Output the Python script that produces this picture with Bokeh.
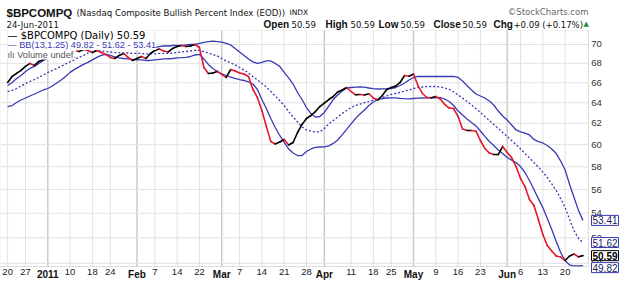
from bokeh.plotting import figure
from bokeh.models import Range1d, FixedTicker, PrintfTickFormatter, Label, LinearAxis, BoxAnnotation
from bokeh.embed import file_html
from bokeh.resources import INLINE

# trading-day index: 0 = 27-Dec-2010 (holidays skipped)
day_index = list(range(-4, 126))

price = [66.03, 66.64, 66.95, 67.26, 67.68, 67.99, 67.78, 68.20, 68.41, 68.72,
         68.94, 68.83, 69.15, 69.25, 69.04, 69.36, 69.25, 69.46, 69.36, 69.15,
         69.36, 69.15, 68.94, 68.62, 68.51, 68.83, 69.04, 68.62, 68.30, 68.51,
         68.72, 68.51, 69.04, 69.36, 69.52, 69.31, 69.20, 69.57, 69.78, 69.89,
         69.78, 69.84, 70.00, 69.68, 67.57, 66.95, 67.00, 67.16, 66.85, 66.54,
         67.36, 67.21, 67.00, 66.90, 66.64, 65.32, 64.52, 63.24, 61.71, 60.30,
         60.07, 60.25, 60.49, 59.98, 60.21, 61.14, 61.90, 62.47, 62.76, 63.14,
         63.63, 63.97, 64.32, 64.62, 65.07, 65.27, 65.52, 65.12, 64.79, 64.82,
         64.77, 64.89, 64.47, 64.27, 64.72, 65.32, 65.52, 65.67, 66.03, 66.74,
         66.67, 66.90, 65.72, 64.92, 64.52, 64.49, 64.62, 64.37, 63.83, 63.48,
         63.43, 62.66, 61.47, 61.33, 61.33, 61.26, 60.39, 59.65, 59.24, 59.10,
         59.10, 59.84, 59.28, 58.83, 58.02, 56.96, 56.26, 55.15, 54.64, 53.48,
         52.26, 51.38, 50.95, 50.56, 50.48, 50.21, 50.56, 50.72, 50.50, 50.59]

bb_upper = [65.72, 66.03, 66.44, 66.74, 67.16, 67.47, 67.68, 67.99, 68.30, 68.51,
            68.72, 68.94, 69.15, 69.36, 69.46, 69.57, 69.68, 69.73, 69.78, 69.78,
            69.78, 69.78, 69.73, 69.68, 69.68, 69.62, 69.57, 69.57, 69.52, 69.52,
            69.57, 69.57, 69.62, 69.68, 69.78, 69.84, 69.84, 69.89, 69.89, 69.89,
            69.95, 70.00, 70.00, 70.11, 70.22, 70.32, 70.36, 70.32, 70.25, 70.11,
            69.95, 69.57, 69.20, 68.83, 68.46, 68.15, 67.99, 68.10, 68.25, 68.25,
            67.99, 67.68, 67.06, 66.49, 65.87, 65.02, 64.32, 63.53, 62.95, 62.61,
            62.66, 63.05, 63.68, 64.32, 64.77, 65.17, 65.47, 65.52, 65.55, 65.57,
            65.55, 65.47, 65.40, 65.37, 65.39, 65.39, 65.42, 65.52, 65.72, 65.98,
            66.28, 66.54, 66.64, 66.64, 66.64, 66.64, 66.64, 66.64, 66.64, 66.64,
            66.64, 66.54, 66.18, 65.72, 65.27, 64.87, 64.67, 64.47, 64.17, 63.78,
            63.19, 62.71, 62.33, 61.85, 61.38, 61.19, 61.08, 60.91, 60.49, 60.28,
            60.16, 59.93, 59.61, 59.19, 58.51, 57.71, 56.44, 55.32, 54.22, 53.41]

bb_mid = [65.12, 65.22, 65.42, 65.67, 65.92, 66.13, 66.33, 66.54, 66.79, 67.06,
          67.26, 67.47, 67.68, 67.94, 68.15, 68.41, 68.62, 68.83, 69.09, 69.25,
          69.31, 69.31, 69.25, 69.20, 69.14, 69.14, 69.09, 69.09, 69.04, 69.04,
          69.04, 68.99, 68.99, 68.99, 69.04, 69.04, 69.04, 69.09, 69.14, 69.20,
          69.25, 69.31, 69.36, 69.36, 69.25, 69.09, 68.94, 68.78, 68.51, 68.25,
          68.05, 67.84, 67.57, 67.31, 67.00, 66.64, 66.28, 65.92, 65.57, 65.12,
          64.67, 64.22, 63.73, 63.14, 62.61, 62.14, 61.66, 61.38, 61.26, 61.19,
          61.19, 61.52, 61.95, 62.28, 62.61, 62.95, 63.24, 63.53, 63.73, 63.87,
          64.02, 64.12, 64.27, 64.42, 64.52, 64.67, 64.82, 64.92, 65.02, 65.17,
          65.27, 65.42, 65.52, 65.57, 65.62, 65.62, 65.62, 65.57, 65.47, 65.32,
          65.07, 64.77, 64.47, 64.12, 63.78, 63.43, 63.05, 62.66, 62.28, 61.90,
          61.52, 61.14, 60.77, 60.39, 60.02, 59.61, 59.19, 58.79, 58.38, 57.98,
          57.53, 57.05, 56.49, 55.92, 55.23, 54.47, 53.48, 52.58, 51.94, 51.62]

bb_lower = [63.63, 63.73, 64.02, 64.27, 64.47, 64.67, 64.87, 65.07, 65.27, 65.42,
            65.67, 65.98, 66.28, 66.64, 67.06, 67.37, 67.63, 67.89, 68.10, 68.36,
            68.62, 68.83, 68.94, 68.83, 68.67, 68.57, 68.51, 68.46, 68.41, 68.36,
            68.36, 68.30, 68.30, 68.36, 68.41, 68.46, 68.48, 68.51, 68.57, 68.59,
            68.62, 68.72, 68.88, 68.94, 68.46, 67.89, 67.47, 67.16, 66.90, 66.74,
            66.57, 66.44, 66.33, 66.23, 66.08, 65.87, 65.32, 64.32, 63.43, 62.47,
            61.61, 60.86, 60.21, 59.61, 59.24, 59.01, 59.01, 59.38, 59.61, 59.75,
            59.79, 59.81, 59.89, 60.12, 60.44, 60.91, 61.43, 61.95, 62.47, 62.90,
            63.29, 63.73, 64.07, 64.32, 64.42, 64.47, 64.49, 64.49, 64.44, 64.40,
            64.39, 64.42, 64.45, 64.47, 64.49, 64.49, 64.49, 64.52, 64.37, 64.12,
            63.73, 63.19, 62.81, 62.43, 62.09, 61.76, 61.28, 60.77, 60.30, 59.93,
            59.51, 59.19, 58.83, 58.60, 58.38, 58.02, 57.49, 56.79, 56.01, 55.23,
            54.47, 53.57, 52.66, 51.70, 50.83, 50.21, 49.87, 49.79, 49.79, 49.82]

week_ticks = [-4, 0, 10, 15, 19, 29, 34, 39, 48, 53, 58, 63, 73, 78, 82, 92, 97, 102, 111, 116, 121]
week_labels = ["20", "27", "10", "18", "24", "7", "14", "22", "7", "14", "21", "28",
               "11", "18", "25", "9", "16", "23", "6", "13", "20"]
month_ticks = [5, 25, 44, 67, 87, 108]
month_labels = ["2011", "Feb", "Mar", "Apr", "May", "Jun"]
y_ticks = [50, 52, 54, 56, 58, 60, 62, 64, 66, 68, 70]

last_close = "50.59"
bb_text = "BB(13,1.25) 49.82 - 51.62 - 53.41"
box_values = [53.41, 51.62, 49.82]

# plot-area extent (data units) inside a full-canvas frame
PX0, PX1 = -5.6, 126.2
PY0, PY1 = 49.75, 71.52

BLUE = "#3a3ab4"
RED = "#e3172f"
FONT = "Liberation Sans"
VFONT = "DejaVu Sans"
GRID = "#e2e2e2"

p = figure(width=622, height=285,
           x_range=Range1d(-5.605, 133.86), y_range=Range1d(48.32, 74.90),
           y_axis_type="log", y_axis_location="right",
           output_backend="svg", toolbar_location=None, min_border=0)
p.title.visible = False
p.outline_line_color = None
p.background_fill_color = "white"
p.border_fill_color = "white"
p.xgrid.visible = False
p.ygrid.visible = False

# x axis: week numbers
xa = p.xaxis[0]
xa.fixed_location = PY0
xa.bounds = (PX0, PX1)
xa.ticker = FixedTicker(ticks=week_ticks)
xa.major_label_overrides = {t: l for t, l in zip(week_ticks, week_labels)}
xa.major_label_text_font = FONT
xa.major_label_text_font_size = "9.5px"
xa.major_label_text_color = "#222222"
xa.major_label_standoff = 2
xa.major_tick_out = 0
xa.major_tick_in = 0
xa.minor_tick_out = 0
xa.minor_tick_in = 0
xa.axis_line_color = "#aaaaaa"
xa.axis_line_dash = "1 2"

# second x axis: bold month names
ma = LinearAxis(fixed_location=PY0, bounds=(PX0, PX1), ticker=FixedTicker(ticks=month_ticks),
                major_label_overrides={t: l for t, l in zip(month_ticks, month_labels)},
                major_label_text_font=FONT, major_label_text_font_size="10px",
                major_label_text_font_style="bold", major_label_text_color="#111111",
                major_label_standoff=2, major_tick_out=0, major_tick_in=0,
                minor_tick_out=0, minor_tick_in=0, axis_line_color=None)
p.add_layout(ma, "below")

# y axis (log, right)
ya = p.yaxis[0]
ya.fixed_location = PX1
ya.bounds = (PY0, PY1)
ya.ticker = FixedTicker(ticks=y_ticks)
ya.formatter = PrintfTickFormatter(format="%d")
ya.major_label_text_font = FONT
ya.major_label_text_font_size = "9.5px"
ya.major_label_text_color = "#333333"
ya.major_label_standoff = 3
ya.major_tick_out = 0
ya.major_tick_in = 0
ya.minor_tick_out = 0
ya.minor_tick_in = 0
ya.axis_line_color = "#aaaaaa"
ya.axis_line_dash = "1 2"

# grid lines limited to the plot area
p.segment(x0=week_ticks, y0=[PY0] * len(week_ticks), x1=week_ticks, y1=[PY1] * len(week_ticks),
          line_color=GRID, line_width=1)
p.segment(x0=month_ticks, y0=[PY0] * len(month_ticks), x1=month_ticks, y1=[PY1] * len(month_ticks),
          line_color="#cbcbcb", line_width=1.5)
p.segment(x0=[PX0] * len(y_ticks), y0=y_ticks, x1=[PX1] * len(y_ticks), y1=y_ticks,
          line_color=GRID, line_width=1)
p.add_layout(BoxAnnotation(left=PX0, right=PX1, bottom=PY0, top=PY1, fill_color=None,
                           line_color="#cccccc", line_width=1))

# Bollinger bands
p.line(day_index, bb_upper, line_color=BLUE, line_width=1.3)
p.line(day_index, bb_lower, line_color=BLUE, line_width=1.3)
p.line(day_index, bb_mid, line_color=BLUE, line_width=1.3, line_dash="2 2")

# price, coloured by direction
x0 = day_index[:-1]
x1 = day_index[1:]
y0 = price[:-1]
y1 = price[1:]
cols = ["black" if b >= a else RED for a, b in zip(y0, y1)]
p.segment(x0=x0, y0=y0, x1=x1, y1=y1, line_color=cols, line_width=1.6, line_cap="round")

# legend (inside plot area, top-left)
leg = [("— $BPCOMPQ (Daily) " + last_close, "black", 250, "10px", VFONT),
       ("— " + bb_text, BLUE, 240.5, "9.2px", FONT),
       ("ılı Volume undef.", "#555555", 231, "9.2px", FONT)]
for txt, c, yy, fs, fn in leg:
    p.add_layout(Label(x=7, y=yy, x_units="screen", y_units="screen", text=txt,
                       text_color=c, text_font=fn, text_font_size=fs,
                       text_baseline="middle", background_fill_color="white",
                       background_fill_alpha=1.0))

# header texts
def hdr(x, y, txt, size, bold=False, color="#111111", align="left", font=VFONT):
    p.add_layout(Label(x=x, y=y, x_units="screen", y_units="screen", text=txt,
                       text_font=font, text_font_size=size,
                       text_font_style="bold" if bold else "normal",
                       text_color=color, text_align=align, text_baseline="middle"))

hdr(6, 273, "$BPCOMPQ", "11.5px", bold=True, font=FONT)
hdr(76, 272.5, "(Nasdaq Composite Bullish Percent Index (EOD))", "8.6px")
hdr(289, 273, "INDX", "7.5px")
hdr(588, 274, "©StockCharts.com", "8.5px", color="#666666", align="right")
hdr(6, 261, "24-Jun-2011", "8.5px")

pieces = [(263, "Open", True), (291, "50.59", False), (325, "High", True), (350, "50.59", False),
          (378, "Low", True), (400, "50.59", False), (433, "Close", True), (462, "50.59", False),
          (493, "Chg", True), (513, "+0.09 (+0.17%)", False)]
for x, txt, b in pieces:
    if b:
        hdr(x, 261, txt, "10px", bold=True, font=FONT)
    else:
        hdr(x, 261, txt, "8.5px")
hdr(583, 262, "▲", "7px", color="#2e8b2e")

# last-value boxes on the right axis
for v in box_values:
    p.add_layout(Label(x=591, x_units="screen", y=v, text=f"{v:.2f}", text_baseline="middle",
                       text_font=FONT, text_font_size="10px", text_color="#222266",
                       border_line_color=BLUE, border_line_width=1,
                       background_fill_color="white", padding=1,
                       y_offset=-2 if v < 50 else 0))
p.add_layout(Label(x=591, x_units="screen", y=float(last_close), text=last_close,
                   text_baseline="middle", text_font=FONT, text_font_size="10px",
                   text_font_style="bold", text_color="black",
                   border_line_color="black", border_line_width=1,
                   background_fill_color="white", padding=1))

open("out.html", "w").write(file_html(p, INLINE))
